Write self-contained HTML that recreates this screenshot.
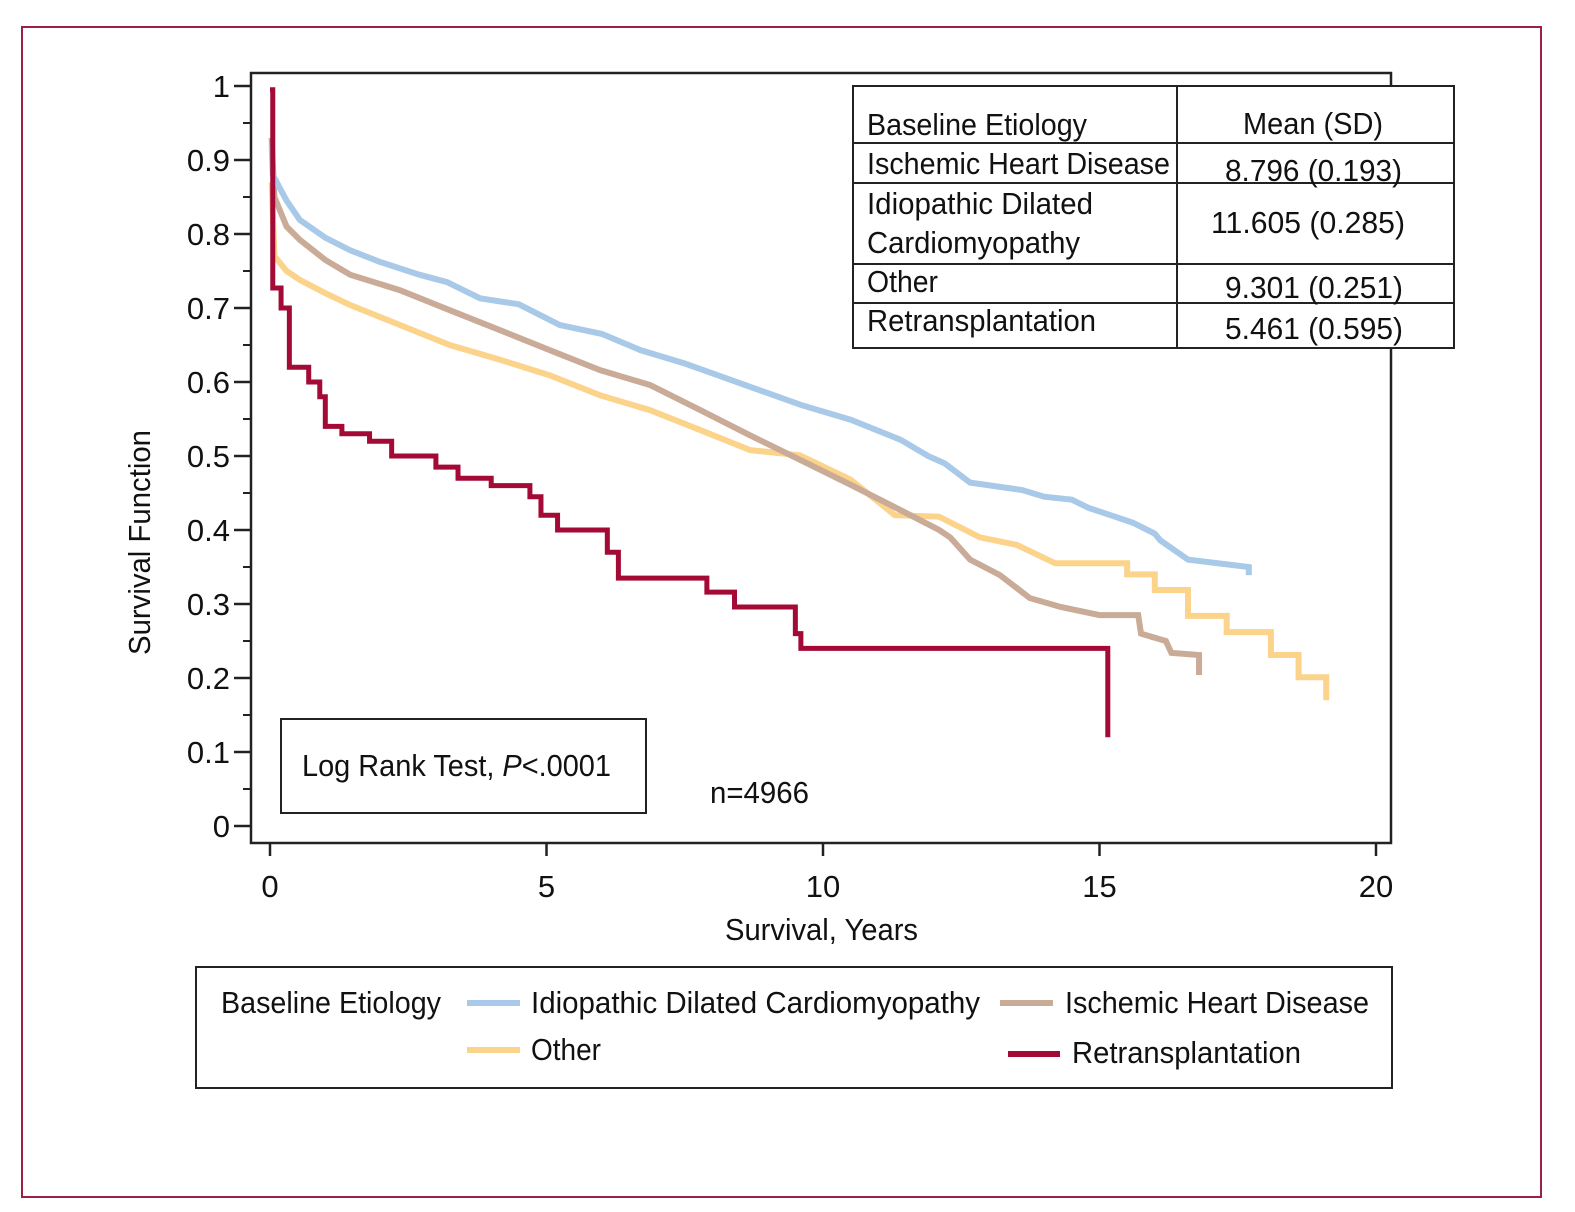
<!DOCTYPE html>
<html><head><meta charset="utf-8"><style>
html,body{margin:0;padding:0;background:#fff;}
svg{display:block;font-family:"Liberation Sans Narrow","Liberation Sans",sans-serif;}
</style></head><body>
<svg id="chart" width="1575" height="1212" viewBox="0 0 1575 1212" xmlns="http://www.w3.org/2000/svg">
<rect x="22" y="27" width="1519" height="1170" fill="#fff" stroke="#9b2145" stroke-width="2"/>
<rect x="251" y="73" width="1140" height="770" fill="none" stroke="#222" stroke-width="2.5"/>
<g id="curves"></g>
<g id="yaxis"></g>
<g id="xaxis"></g>
<text transform="translate(150,655) rotate(-90)" font-size="31" fill="#111" textLength="225" lengthAdjust="spacingAndGlyphs">Survival Function</text>
<text x="725" y="940" font-size="31" fill="#111" textLength="193" lengthAdjust="spacingAndGlyphs">Survival, Years</text>
<g font-size="31" fill="#111">
<rect x="853" y="86" width="601" height="262" fill="#fff" stroke="#222" stroke-width="2"/>
<line x1="1177" y1="86" x2="1177" y2="348" stroke="#222" stroke-width="2"/>
<line x1="853" y1="143" x2="1454" y2="143" stroke="#222" stroke-width="2"/>
<line x1="853" y1="183" x2="1454" y2="183" stroke="#222" stroke-width="2"/>
<line x1="853" y1="264" x2="1454" y2="264" stroke="#222" stroke-width="2"/>
<line x1="853" y1="303" x2="1454" y2="303" stroke="#222" stroke-width="2"/>
<text x="867" y="135" textLength="220" lengthAdjust="spacingAndGlyphs">Baseline Etiology</text>
<text x="1243" y="134" textLength="140" lengthAdjust="spacingAndGlyphs">Mean (SD)</text>
<text x="867" y="174" textLength="303" lengthAdjust="spacingAndGlyphs">Ischemic Heart Disease</text>
<text x="1225" y="181" textLength="177" lengthAdjust="spacingAndGlyphs">8.796 (0.193)</text>
<text x="867" y="214" textLength="226" lengthAdjust="spacingAndGlyphs">Idiopathic Dilated</text>
<text x="867" y="253" textLength="213" lengthAdjust="spacingAndGlyphs">Cardiomyopathy</text>
<text x="1211" y="233" textLength="194" lengthAdjust="spacingAndGlyphs">11.605 (0.285)</text>
<text x="867" y="292" textLength="71" lengthAdjust="spacingAndGlyphs">Other</text>
<text x="1225" y="298" textLength="178" lengthAdjust="spacingAndGlyphs">9.301 (0.251)</text>
<text x="867" y="331" textLength="229" lengthAdjust="spacingAndGlyphs">Retransplantation</text>
<text x="1225" y="339" textLength="178" lengthAdjust="spacingAndGlyphs">5.461 (0.595)</text>
</g>
<g>
<rect x="281" y="719" width="365" height="94" fill="#fff" stroke="#222" stroke-width="2"/>
<text x="302" y="776" font-size="31" fill="#111" textLength="309" lengthAdjust="spacingAndGlyphs">Log Rank Test, <tspan font-style="italic">P</tspan>&lt;.0001</text>
</g>
<text x="710" y="803" font-size="31" fill="#111" textLength="99" lengthAdjust="spacingAndGlyphs">n=4966</text>
<g font-size="31" fill="#111">
<rect x="196" y="967" width="1196" height="121" fill="#fff" stroke="#222" stroke-width="2"/>
<text x="221" y="1013" textLength="220" lengthAdjust="spacingAndGlyphs">Baseline Etiology</text>
<g><line x1="467" y1="1003" x2="520" y2="1003" stroke="#a9c9e8" stroke-width="6"/><text x="531" y="1013" textLength="449" lengthAdjust="spacingAndGlyphs">Idiopathic Dilated Cardiomyopathy</text></g>
<g><line x1="1000" y1="1003" x2="1053" y2="1003" stroke="#c9ab98" stroke-width="6"/><text x="1065" y="1013" textLength="304" lengthAdjust="spacingAndGlyphs">Ischemic Heart Disease</text></g>
<g><line x1="467" y1="1050" x2="520" y2="1050" stroke="#fbd38a" stroke-width="6"/><text x="531" y="1060" textLength="70" lengthAdjust="spacingAndGlyphs">Other</text></g>
<g><line x1="1008" y1="1054" x2="1060" y2="1054" stroke="#a30a35" stroke-width="6"/><text x="1072" y="1063" textLength="229" lengthAdjust="spacingAndGlyphs">Retransplantation</text></g>
</g>
</svg>
<script>
const xTicks = [0, 5, 10, 15, 20];
const yTicks = [0, 0.1, 0.2, 0.3, 0.4, 0.5, 0.6, 0.7, 0.8, 0.9, 1];
const yTickLabels = ["0", "0.1", "0.2", "0.3", "0.4", "0.5", "0.6", "0.7", "0.8", "0.9", "1"];
const seriesNames = ["Idiopathic Dilated Cardiomyopathy", "Ischemic Heart Disease", "Other", "Retransplantation"];
const idiopathicT = [0.03, 0.05, 0.3, 0.54, 1.0, 1.45, 2.0, 2.7, 3.2, 3.8, 4.5, 5.24, 6.0, 6.7, 7.5, 8.1, 9.0, 9.6, 10.5, 11.4, 11.9, 12.2, 12.66, 13.6, 14.0, 14.5, 14.8, 15.2, 15.6, 16.0, 16.1, 16.6, 17.7, 17.7];
const idiopathicS = [0.92, 0.88, 0.845, 0.819, 0.795, 0.778, 0.762, 0.745, 0.735, 0.713, 0.705, 0.677, 0.665, 0.643, 0.625, 0.609, 0.585, 0.569, 0.549, 0.522, 0.5, 0.49, 0.464, 0.454, 0.445, 0.441, 0.43, 0.42, 0.41, 0.395, 0.386, 0.36, 0.35, 0.339];
const ischemicT = [0.03, 0.08, 0.3, 0.54, 1.0, 1.45, 2.35, 3.25, 4.16, 5.06, 5.97, 6.87, 7.78, 8.68, 9.58, 10.5, 11.4, 12.1, 12.3, 12.66, 13.2, 13.74, 14.3, 15.0, 15.7, 15.75, 16.2, 16.3, 16.8, 16.8];
const ischemicS = [0.93, 0.85, 0.81, 0.792, 0.765, 0.745, 0.724, 0.697, 0.67, 0.643, 0.616, 0.596, 0.562, 0.528, 0.495, 0.461, 0.427, 0.4, 0.39, 0.36, 0.339, 0.308, 0.296, 0.285, 0.285, 0.26, 0.25, 0.234, 0.231, 0.204];
const otherT = [0.03, 0.08, 0.3, 0.54, 1.0, 1.45, 2.35, 3.25, 4.16, 5.06, 5.97, 6.87, 7.78, 8.68, 9.58, 10.5, 11.3, 12.1, 12.84, 13.5, 14.2, 15.5, 15.5, 16.0, 16.0, 16.6, 16.6, 17.3, 17.3, 18.1, 18.1, 18.6, 18.6, 19.1, 19.1];
const otherS = [0.87, 0.77, 0.75, 0.738, 0.72, 0.704, 0.677, 0.65, 0.63, 0.609, 0.582, 0.562, 0.535, 0.508, 0.501, 0.468, 0.42, 0.418, 0.39, 0.38, 0.355, 0.355, 0.34, 0.34, 0.319, 0.319, 0.284, 0.284, 0.262, 0.262, 0.231, 0.231, 0.201, 0.201, 0.17];
const retransT = [0, 0.05, 0.2, 0.35, 0.7, 0.9, 1.0, 1.3, 1.8, 2.2, 3.0, 3.4, 4.0, 4.7, 4.9, 5.2, 6.1, 6.3, 7.9, 8.4, 9.5, 9.6, 15.15];
const retransS = [0.995, 0.727, 0.7, 0.62, 0.6, 0.58, 0.54, 0.53, 0.52, 0.5, 0.485, 0.47, 0.46, 0.445, 0.42, 0.4, 0.37, 0.335, 0.316, 0.296, 0.26, 0.24, 0.12];

const NS = "http://www.w3.org/2000/svg";
function xs(t){ return 270 + 55.3 * t; }
function ys(s){ return 826 - 740 * s; }
function mk(tag, attrs, parent){
  const el = document.createElementNS(NS, tag);
  for (const k in attrs) el.setAttribute(k, attrs[k]);
  parent.appendChild(el);
  return el;
}
const yg = document.getElementById('yaxis');
yTicks.forEach((v, i) => {
  const l = mk('line', {x1: 234, x2: 251, y1: ys(v), y2: ys(v), stroke: '#222', 'stroke-width': 2.5}, yg);
  
  
  const t = mk('text', {x: 230, y: ys(v) + 11, 'text-anchor': 'end', 'font-size': 31, fill: '#111'}, yg);
  
  
  t.textContent = yTickLabels[i];
  if (i < yTicks.length - 1) {
    const m = mk('line', {x1: 243, x2: 251, y1: ys(v + 0.05), y2: ys(v + 0.05), stroke: '#222', 'stroke-width': 2}, yg);
    
    
  }
});
const xg = document.getElementById('xaxis');
xTicks.forEach(v => {
  const l = mk('line', {x1: xs(v), x2: xs(v), y1: 843, y2: 856, stroke: '#222', 'stroke-width': 2.5}, xg);
  
  
  const t = mk('text', {x: xs(v), y: 897, 'text-anchor': 'middle', 'font-size': 31, fill: '#111'}, xg);
  
  
  t.textContent = String(v);
});
const cg = document.getElementById('curves');
function line(T, S, color, w, name){
  let d = 'M' + xs(T[0]) + ',' + ys(S[0]);
  for (let i = 1; i < T.length; i++) d += ' L' + xs(T[i]) + ',' + ys(S[i]);
  const p = mk('path', {d: d, fill: 'none', stroke: color, 'stroke-width': w, 'stroke-linejoin': 'miter'}, cg);
  
  
}
function step(T, S, color, w, name){
  let d = 'M' + xs(T[0]) + ',' + ys(S[0]);
  for (let i = 1; i < T.length; i++) d += ' H' + xs(T[i]) + ' V' + ys(S[i]);
  const p = mk('path', {d: d, fill: 'none', stroke: color, 'stroke-width': w}, cg);
  
  
}
line(otherT, otherS, '#fbd38a', 6, 'curve-other');
line(ischemicT, ischemicS, '#c9ab98', 6, 'curve-ischemic');
line(idiopathicT, idiopathicS, '#a9c9e8', 6, 'curve-idiopathic');
step(retransT, retransS, '#a30a35', 5, 'curve-retransplantation');
</script>
</body></html>
